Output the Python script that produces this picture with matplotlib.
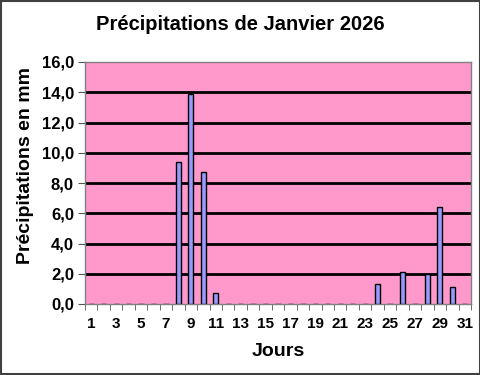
import matplotlib
matplotlib.use("Agg")
import matplotlib.pyplot as plt
import numpy as np

plt.rcParams['font.family'] = ['Liberation Sans', 'DejaVu Sans']

days = list(range(1, 32))
values = [0, 0, 0, 0, 0, 0, 0, 9.4, 13.9, 8.7, 0.7, 0, 0, 0, 0, 0, 0, 0, 0, 0,
          0, 0, 0, 1.3, 0, 2.1, 0, 2.0, 6.4, 1.1, 0]
yticks = [0, 2, 4, 6, 8, 10, 12, 14, 16]

fig = plt.figure(figsize=(4.81, 3.75), dpi=100)
ax = fig.add_axes([85/481, 1 - 304/375, (471-85)/481, (304-62)/375])
ax.set_facecolor('#FF99CC')

pos = np.arange(len(days))
for y in yticks[1:-1]:
    ax.axhline(y, color='black', lw=2, zorder=1)
ax.bar(pos, values, width=0.42, color='#9999FF', edgecolor='black', lw=1, zorder=3)

ax.set_xlim(-0.5, len(days) - 0.5)
ax.set_ylim(0, 16)
ax.set_yticks(yticks)
ax.set_yticklabels([f"{v:.1f}".replace('.', ',') for v in yticks], fontsize=12, fontweight='bold')
ax.set_xticks(pos[::2])
ax.set_xticklabels([str(d) for d in days[::2]], fontsize=11, fontweight='bold')
ax.set_xticks(np.arange(-0.5, len(days), 1), minor=True)
ax.tick_params(axis='x', which='major', length=0, pad=9)
ax.tick_params(axis='x', which='minor', length=4, direction='out', color='#555555')
ax.tick_params(axis='y', length=5, direction='out', color='#555555', pad=3)
for s in ax.spines.values():
    s.set_color('#808080')
    s.set_linewidth(1)

ax.set_xlabel('Jours', fontsize=14, fontweight='bold', labelpad=9)
ax.set_ylabel('Précipitations en mm', fontsize=14, fontweight='bold')
ax.yaxis.set_label_coords((34 - 85) / 386, (304 - 166) / 242)
fig.text(0.5, 1 - 25/375, 'Précipitations de Janvier 2026', ha='center', va='center',
         fontsize=14.5, fontweight='bold')

fig.patches.append(plt.Rectangle((0.002, 0.003), 0.995, 0.994, transform=fig.transFigure,
                                 fill=False, edgecolor='#404040', lw=1.5))
fig.savefig('out.png', dpi=100)
